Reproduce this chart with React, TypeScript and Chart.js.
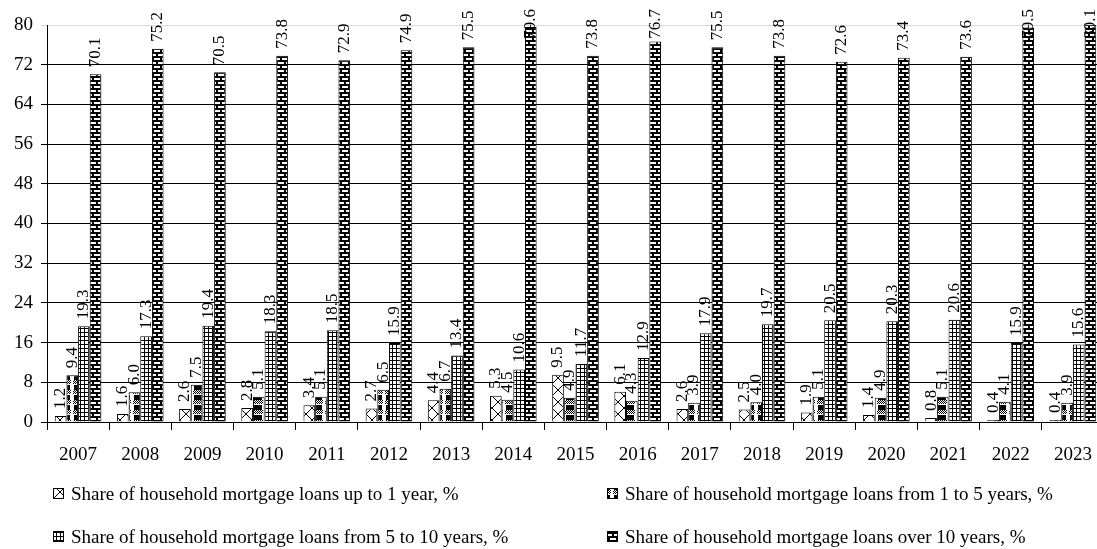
import React, { useEffect, useRef } from "react";
import { Chart, registerables } from "chart.js";

Chart.register(...registerables);

const years = ["2007", "2008", "2009", "2010", "2011", "2012", "2013", "2014", "2015", "2016", "2017", "2018", "2019", "2020", "2021", "2022", "2023"];
const upTo1Year = [1.2, 1.6, 2.6, 2.8, 3.4, 2.7, 4.4, 5.3, 9.5, 6.1, 2.6, 2.5, 1.9, 1.4, 0.8, 0.4, 0.4];
const from1To5Years = [9.4, 6.0, 7.5, 5.1, 5.1, 6.5, 6.7, 4.5, 4.9, 4.3, 3.9, 4.0, 5.1, 4.9, 5.1, 4.1, 3.9];
const from5To10Years = [19.3, 17.3, 19.4, 18.3, 18.5, 15.9, 13.4, 10.6, 11.7, 12.9, 17.9, 19.7, 20.5, 20.3, 20.6, 15.9, 15.6];
const over10Years = [70.1, 75.2, 70.5, 73.8, 72.9, 74.9, 75.5, 79.6, 73.8, 76.7, 75.5, 73.8, 72.6, 73.4, 73.6, 79.5, 80.1];
const seriesNames = [
  "Share of household mortgage loans up to 1 year, %",
  "Share of household mortgage loans from 1 to 5 years, %",
  "Share of household mortgage loans from 5 to 10 years, %",
  "Share of household mortgage loans over 10 years, %",
];
const yMin = 0;
const yMax = 80;
const yStep = 8;

const FONT = "'Liberation Serif', 'Times New Roman', serif";

function makePattern(kind: string): CanvasPattern | string {
  const c = document.createElement("canvas");
  const ctx = c.getContext("2d")!;
  if (kind === "cross") {
    c.width = 12; c.height = 12;
    ctx.fillStyle = "#fff"; ctx.fillRect(0, 0, 12, 12);
    ctx.strokeStyle = "#000"; ctx.lineWidth = 1;
    ctx.beginPath();
    ctx.moveTo(0, 0); ctx.lineTo(12, 12);
    ctx.moveTo(12, 0); ctx.lineTo(0, 12);
    ctx.stroke();
  } else if (kind === "check") {
    c.width = 12; c.height = 10;
    ctx.fillStyle = "#fff"; ctx.fillRect(0, 0, 12, 10);
    ctx.fillStyle = "#000";
    for (let y = 0; y < 4; y++) for (let x = 1; x < 11; x++) if ((x + y) % 2 === 0) ctx.fillRect(x, y, 1, 1);
    ctx.fillRect(2, 5, 8, 5);
  } else if (kind === "grid") {
    c.width = 4; c.height = 4;
    ctx.fillStyle = "#fff"; ctx.fillRect(0, 0, 4, 4);
    ctx.fillStyle = "#000";
    ctx.fillRect(0, 0, 4, 1);
    ctx.fillRect(0, 0, 1, 4);
  } else {
    c.width = 8; c.height = 8;
    ctx.fillStyle = "#fff"; ctx.fillRect(0, 0, 8, 8);
    ctx.fillStyle = "#000";
    ctx.fillRect(0, 0, 8, 2);
    ctx.fillRect(0, 4, 8, 2);
    ctx.fillRect(0, 2, 2, 2);
    ctx.fillRect(4, 6, 2, 2);
  }
  return ctx.createPattern(c, "repeat") || "#888";
}

export default function App() {
  const ref = useRef<HTMLCanvasElement | null>(null);
  useEffect(() => {
    const canvas = ref.current!;
    const patterns = [makePattern("cross"), makePattern("check"), makePattern("grid"), makePattern("brick")];
    const values = [upTo1Year, from1To5Years, from5To10Years, over10Years];

    const labelPlugin = {
      id: "barLabels",
      afterDatasetsDraw(chart: any) {
        const ctx = chart.ctx as CanvasRenderingContext2D;
        ctx.save();
        ctx.font = `17px ${FONT}`;
        ctx.fillStyle = "#000";
        ctx.textAlign = "left";
        ctx.textBaseline = "middle";
        chart.data.datasets.forEach((ds: any, di: number) => {
          const meta = chart.getDatasetMeta(di);
          meta.data.forEach((bar: any, i: number) => {
            const txt = Number(ds.data[i]).toFixed(1);
            const w = ctx.measureText(txt).width;
            let bottom = bar.y - 7;
            if (bottom - w < 9) bottom = 9 + w;
            ctx.save();
            ctx.translate(bar.x, bottom);
            ctx.rotate(-Math.PI / 2);
            ctx.fillText(txt, 0, 0);
            ctx.restore();
          });
        });
        ctx.restore();
      },
    };

    const legendPlugin = {
      id: "customLegend",
      afterDraw(chart: any) {
        const ctx = chart.ctx as CanvasRenderingContext2D;
        const pos = [
          [53, 494],
          [607, 494],
          [53, 537],
          [607, 537],
        ];
        ctx.save();
        ctx.font = `19px ${FONT}`;
        ctx.textBaseline = "middle";
        ctx.textAlign = "left";
        chart.data.datasets.forEach((ds: any, i: number) => {
          const [x, y] = pos[i];
          ctx.fillStyle = ds.backgroundColor;
          ctx.fillRect(x, y - 6, 11, 11);
          ctx.strokeStyle = "#000";
          ctx.lineWidth = 1;
          ctx.strokeRect(x + 0.5, y - 5.5, 10, 10);
          ctx.fillStyle = "#000";
          ctx.fillText(ds.label, x + 18, y + 1);
        });
        ctx.restore();
      },
    };

    const chart = new Chart(canvas, {
      type: "bar",
      data: {
        labels: years,
        datasets: values.map((v, i) => ({
          label: seriesNames[i],
          data: v,
          backgroundColor: patterns[i] as any,
          borderColor: "#000",
          borderWidth: 1,
          categoryPercentage: 0.75,
          barPercentage: 1,
        })),
      },
      options: {
        responsive: false,
        animation: false,
        layout: { padding: { top: 25, right: 6, left: 0, bottom: 0 } },
        plugins: { legend: { display: false }, tooltip: { enabled: false } },
        scales: {
          x: {
            offset: true,
            grid: { offset: true, drawOnChartArea: false, drawTicks: true, tickLength: 8, color: "#000" },
            border: { color: "#000" },
            ticks: { color: "#000", font: { family: FONT, size: 19 }, padding: 14 },
            afterFit: (s: any) => { s.height = 127; },
          },
          y: {
            min: yMin,
            max: yMax,
            ticks: { stepSize: yStep, color: "#000", font: { family: FONT, size: 19 }, padding: 8 },
            grid: {
              color: (c: any) => (c.tick && c.tick.value === yMax ? "#d9d9d9" : "#000"),
              tickLength: 6,
              lineWidth: 1,
            },
            border: { color: "#000" },
            afterFit: (s: any) => { s.width = 47; },
          },
        },
      },
      plugins: [labelPlugin, legendPlugin],
    });
    return () => chart.destroy();
  }, []);

  return (
    <div style={{ position: "absolute", left: 0, top: 0, width: 1097, height: 549, overflow: "hidden", background: "#fff" }}>
      <canvas ref={ref} width={1110} height={549} style={{ display: "block", width: 1110, height: 549 }} />
    </div>
  );
}
